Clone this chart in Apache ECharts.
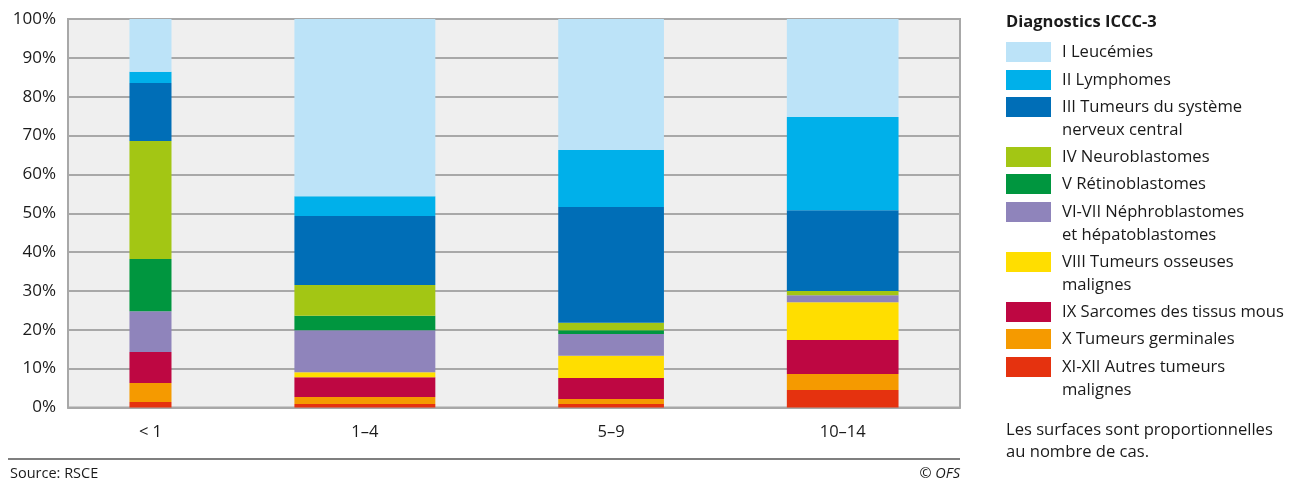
<!DOCTYPE html>
<html><head><meta charset="utf-8">
<script src="https://cdn.jsdelivr.net/npm/echarts@6/dist/echarts.min.js"></script>
<style>html,body{margin:0;padding:0;background:#fff}#c{width:1300px;height:482px}</style>
</head><body><div id="c"></div>
<script>
// Age groups and (estimated) number of cases: bar widths proportional to cases
var categories = ['< 1', '1–4', '5–9', '10–14'];
var cases = [105, 352, 264, 279];

// Diagnostic groups (bottom of stack first), shares in % per age group
var groupNames = [
  'XI-XII Autres tumeurs malignes',
  'X Tumeurs germinales',
  'IX Sarcomes des tissus mous',
  'VIII Tumeurs osseuses malignes',
  'VI-VII Néphroblastomes et hépatoblastomes',
  'V Rétinoblastomes',
  'IV Neuroblastomes',
  'III Tumeurs du système nerveux central',
  'II Lymphomes',
  'I Leucémies'
];
var sXI   = [1.4, 0.9, 0.9, 4.5];
var sX    = [4.9, 1.8, 1.3, 4.1];
var sIX   = [8.0, 5.1, 5.4, 8.8];
var sVIII = [0.0, 1.3, 5.7, 9.7];
var sVI   = [10.5, 10.8, 5.6, 1.8];
var sV    = [13.4, 3.7, 1.0, 0.0];
var sIV   = [30.4, 7.9, 1.9, 1.1];
var sIII  = [14.9, 17.8, 29.8, 20.8];
var sII   = [2.9, 5.1, 14.7, 24.0];
var sI    = [13.6, 45.6, 33.7, 25.2];
var shares = [sXI, sX, sIX, sVIII, sVI, sV, sIV, sIII, sII, sI];

var colors = ['#e5320f', '#f59a00', '#be0742', '#ffde00', '#8f84bb',
              '#00963f', '#a3c614', '#006eb7', '#00b0ea', '#bce3f8'];

// Legend (top to bottom) with line breaks as in the reference
var legendTitle = 'Diagnostics ICCC-3';
var legendLabels = [
  'I Leucémies', 'II Lymphomes', 'III Tumeurs du système\nnerveux central',
  'IV Neuroblastomes', 'V Rétinoblastomes', 'VI-VII Néphroblastomes\net hépatoblastomes',
  'VIII Tumeurs osseuses\nmalignes', 'IX Sarcomes des tissus mous',
  'X Tumeurs germinales', 'XI-XII Autres tumeurs\nmalignes'
];
var legendColorIdx = [9, 8, 7, 6, 5, 4, 3, 2, 1, 0];
var noteLines = 'Les surfaces sont proportionnelles\nau nombre de cas.';
var sourceText = 'Source: RSCE';
var copyText = '© OFS';

// ---- layout of the x value axis (in case units) ----
var totalCases = cases.reduce(function (a, b) { return a + b; }, 0);
var gap = totalCases * 0.307;        // space between bars
var xStarts = [], centers = [];
var pos = gap / 2;
for (var i = 0; i < cases.length; i++) {
  xStarts.push(pos);
  centers.push(pos + cases[i] / 2);
  pos += cases[i] + gap;
}
var xMax = pos - gap / 2;

var FONT = '"Open Sans"';
var series = [];
var cum = cases.map(function () { return 0; });
shares.forEach(function (arr, gi) {
  var data = [];
  arr.forEach(function (v, ci) {
    data.push([xStarts[ci], xStarts[ci] + cases[ci], cum[ci], cum[ci] + v]);
    cum[ci] += v;
  });
  series.push({
    type: 'custom',
    name: groupNames[gi],
    data: data,
    encode: { x: [0, 1], y: [2, 3] },
    itemStyle: { color: colors[gi] },
    renderItem: function (params, api) {
      var p0 = api.coord([api.value(0), api.value(3)]);
      var p1 = api.coord([api.value(1), api.value(2)]);
      return {
        type: 'rect',
        shape: { x: p0[0], y: p0[1], width: p1[0] - p0[0], height: p1[1] - p0[1] },
        style: { fill: colors[gi] }
      };
    },
    silent: true
  });
});

var graphics = [];
graphics.push({ type: 'text', x: 1006, y: 22,
  style: { text: legendTitle, font: 'bold 16.5px ' + FONT, fill: '#1a1a1a', verticalAlign: 'middle' } });
var rowTops = [42, 70, 97, 147, 174, 202, 252, 302, 329, 357];
legendLabels.forEach(function (lab, k) {
  graphics.push({ type: 'rect', shape: { x: 1006, y: rowTops[k], width: 45, height: 20 },
    style: { fill: colors[legendColorIdx[k]] } });
  graphics.push({ type: 'text', x: 1062, y: rowTops[k] - 1.5,
    style: { text: lab, font: '16.6px ' + FONT, fill: '#1a1a1a', lineHeight: 23, verticalAlign: 'top' } });
});
graphics.push({ type: 'text', x: 1006, y: 419,
  style: { text: noteLines, font: '16.6px ' + FONT, fill: '#1a1a1a', lineHeight: 22, verticalAlign: 'top' } });
graphics.push({ type: 'line', shape: { x1: 8, y1: 459, x2: 960, y2: 459 },
  style: { stroke: '#555', lineWidth: 1.5 } });
graphics.push({ type: 'text', x: 10, y: 474,
  style: { text: sourceText, font: '14.5px ' + FONT, fill: '#1a1a1a', verticalAlign: 'middle' } });
graphics.push({ type: 'text', x: 960, y: 474,
  style: { text: copyText, font: 'italic 14.5px ' + FONT, fill: '#1a1a1a', align: 'right', verticalAlign: 'middle' } });

var chart = echarts.init(document.getElementById('c'));
chart.setOption({
  animation: false,
  backgroundColor: '#ffffff',
  grid: { left: 68, right: 340, top: 19, bottom: 74.5, show: true,
          backgroundColor: '#efefef', borderColor: '#a8a8a8', borderWidth: 2 },
  xAxis: {
    type: 'value', min: 0, max: xMax,
    splitLine: { show: false },
    axisLine: { show: true, onZero: false, lineStyle: { color: '#a8a8a8', width: 2 } },
    axisTick: { show: false },
    axisLabel: {
      customValues: centers, margin: 16,
      color: '#1a1a1a', fontSize: 16.5, fontFamily: FONT,
      formatter: function (v) {
        for (var i = 0; i < centers.length; i++) {
          if (Math.abs(centers[i] - v) < 1e-6) return categories[i];
        }
        return '';
      }
    }
  },
  yAxis: {
    type: 'value', min: 0, max: 100, interval: 10,
    axisLine: { show: true, lineStyle: { color: '#a8a8a8', width: 2 } },
    axisTick: { show: false },
    splitLine: { show: true, lineStyle: { color: '#a8a8a8', width: 2 } },
    axisLabel: { formatter: '{value}%', margin: 12, color: '#1a1a1a', fontSize: 17, fontFamily: FONT }
  },
  series: series,
  graphic: graphics
});
</script></body></html>
